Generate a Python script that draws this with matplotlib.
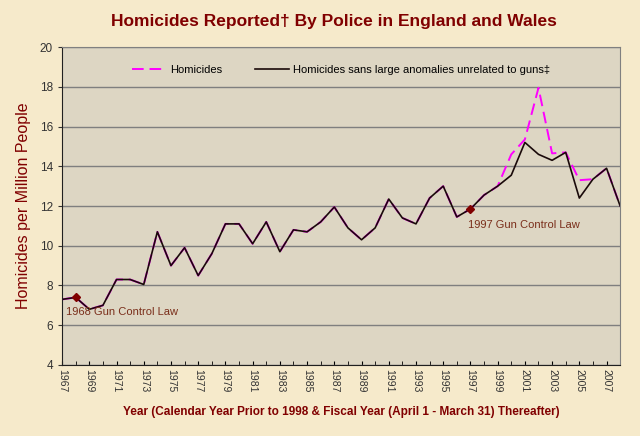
import matplotlib
matplotlib.use("Agg")
import matplotlib.pyplot as plt
import numpy as np

plt.rcParams['font.family'] = ['Liberation Sans', 'DejaVu Sans']

years = list(range(1967, 2009))
sans_anomalies = [7.3, 7.4, 6.8, 7.0, 8.3, 8.3, 8.05, 10.7, 9.0, 9.9,
                  8.5, 9.6, 11.1, 11.1, 10.1, 11.2, 9.7, 10.8, 10.7, 11.2,
                  11.95, 10.9, 10.3, 10.9, 12.35, 11.4, 11.1, 12.4, 13.0, 11.45,
                  11.85, 12.55, 13.0, 13.55, 15.2, 14.6, 14.3, 14.7, 12.4, 13.35,
                  13.9, 12.0]
homicides = [7.3, 7.4, 6.8, 7.0, 8.3, 8.3, 8.05, 10.7, 9.0, 9.9,
             8.5, 9.6, 11.1, 11.1, 10.1, 11.2, 9.7, 10.8, 10.7, 11.2,
             11.95, 10.9, 10.3, 10.9, 12.35, 11.4, 11.1, 12.4, 13.0, 11.45,
             11.85, 12.55, 13.0, 14.6, 15.35, 17.95, 14.65, 14.7, 13.3, 13.35,
             13.9, 12.0]
laws = [1968, 1997]
law_labels = ["1968 Gun Control Law", "1997 Gun Control Law"]

dark_red = '#800000'

fig = plt.figure(figsize=(6.4, 4.36), dpi=100)
fig.patch.set_facecolor('#F6EACB')
ax = fig.add_axes([0.097, 0.163, 0.872, 0.729])
ax.set_facecolor('#DDD6C3')

ax.plot(years, homicides, color='#FF00FF', lw=1.4, dashes=(6, 3), label='Homicides')
ax.plot(years, sans_anomalies, color='#1A0A0A', lw=1.2,
        label='Homicides sans large anomalies unrelated to guns\u2021')

for yr in laws:
    v = sans_anomalies[years.index(yr)]
    ax.plot(yr, v, marker='D', ms=4, color=dark_red, zorder=5)

ax.text(1967.3, 6.65, law_labels[0], color='#7A2E1A', fontsize=8, ha='left', va='center')
ax.text(1996.8, 11.05, law_labels[1], color='#7A2E1A', fontsize=8, ha='left', va='center')

ax.set_xlim(1967, 2008)
ax.set_ylim(4, 20)
ax.set_yticks(np.arange(4, 21, 2))
ax.set_xticks(range(1967, 2009), minor=True)
ax.set_xticks(range(1967, 2008, 2))
ax.set_xticklabels([str(y) for y in range(1967, 2008, 2)], rotation=270, fontsize=7.5, color='#333333')
ax.tick_params(axis='y', labelsize=8.5, colors='#333333', length=3)
ax.tick_params(axis='x', which='both', direction='in', length=3, pad=3)
ax.tick_params(axis='x', which='both', top=False)
ax.grid(axis='y', color='#7F7F7F', lw=1.0)
ax.set_axisbelow(True)
for s in ['top', 'right']:
    ax.spines[s].set_color('#808080')
ax.spines['left'].set_color('#202020')
ax.spines['bottom'].set_color('#202020')

ax.set_ylabel('Homicides per Million People', color=dark_red, fontsize=11.5, labelpad=6)
ax.set_xlabel('Year (Calendar Year Prior to 1998 & Fiscal Year (April 1 - March 31) Thereafter)',
              color=dark_red, fontsize=8.5, fontweight='bold', labelpad=10)
fig.text(0.522, 0.95, 'Homicides Reported\u2020 By Police in England and Wales',
         color=dark_red, fontsize=12.5, fontweight='bold', ha='center', va='center')

leg = ax.legend(loc='upper center', bbox_to_anchor=(0.5, 0.975), ncol=2, frameon=False,
                fontsize=8, handlelength=3, handletextpad=0.4, columnspacing=3)

fig.savefig('out.png', dpi=100, facecolor=fig.get_facecolor())
